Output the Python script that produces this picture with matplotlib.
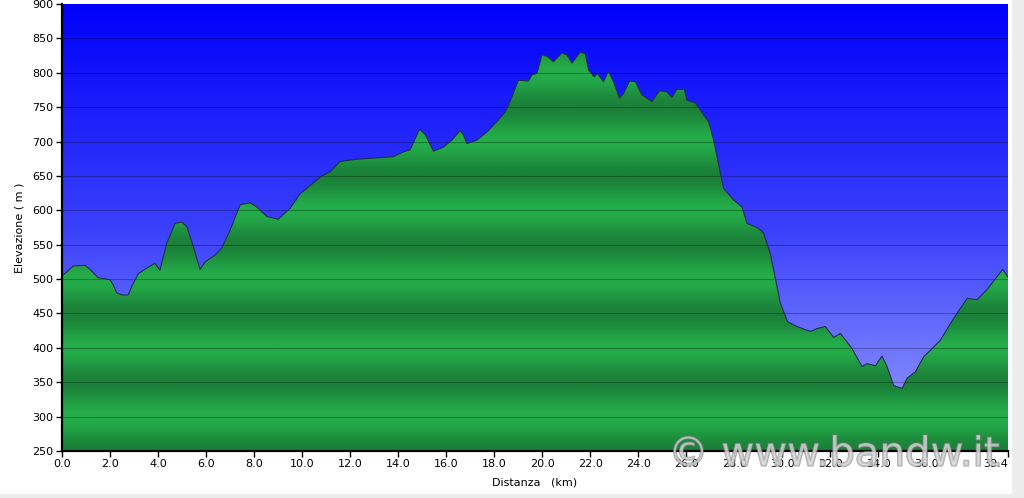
import numpy as np
import matplotlib
matplotlib.use("Agg")
import matplotlib.pyplot as plt
from matplotlib.patches import Polygon, Rectangle
from matplotlib.colors import LinearSegmentedColormap
import matplotlib.patheffects as pe

# ── data: distance (km) and elevation (m) ─────────────────────────────────────
distance_km = [0.0, 0.05, 0.47, 0.96, 1.17, 1.51, 2.0, 2.14, 2.28, 2.49, 2.76, 2.9, 3.18, 3.53,
               3.87, 4.08, 4.36, 4.71, 4.99, 5.2, 5.47, 5.75, 5.96, 6.38, 6.65, 7.0, 7.42,
               7.83, 8.11, 8.53, 9.01, 9.5, 9.92, 10.33, 10.82, 11.17, 11.58, 12.21, 12.97,
               13.8, 14.22, 14.5, 14.89, 15.13, 15.47, 15.89, 16.24, 16.58, 16.72, 16.86,
               17.28, 17.7, 18.11, 18.46, 18.6, 19.01, 19.43, 19.57, 19.78, 19.99, 20.2,
               20.47, 20.82, 21.03, 21.24, 21.58, 21.79, 21.93, 22.17, 22.3, 22.55, 22.76,
               22.97, 23.22, 23.39, 23.64, 23.88, 24.15, 24.57, 24.89, 25.2, 25.4, 25.61,
               25.92, 26.03, 26.38, 26.72, 26.93, 27.14, 27.55, 27.97, 28.32, 28.53, 29.01,
               29.22, 29.5, 29.78, 29.92, 30.22, 30.61, 31.17, 31.45, 31.79, 32.14, 32.42,
               32.9, 33.32, 33.53, 33.88, 34.15, 34.36, 34.64, 34.99, 35.2, 35.54, 35.89,
               36.24, 36.58, 37.14, 37.7, 38.11, 38.53, 39.18, 39.4]
elevation_m = [505, 506, 519, 520, 514, 502, 499, 491, 480, 477, 477, 489, 508, 516,
               523, 513, 552, 581, 583, 576, 547, 514, 525, 535, 545, 571, 608,
               611, 605, 591, 587, 603, 624, 636, 650, 656, 671, 674, 676,
               678, 685, 688, 718, 710, 686, 692, 702, 716, 710, 697,
               702, 714, 729, 743, 753, 789, 788, 797, 799, 826, 824,
               816, 829, 826, 814, 830, 828, 804, 794, 799, 787, 802,
               787, 763, 770, 788, 787, 768, 758, 774, 772, 764, 776,
               776, 760, 756, 739, 729, 702, 632, 615, 605, 581, 574,
               567, 537, 489, 465, 438, 431, 424, 428, 431, 415, 421,
               399, 373, 377, 374, 388, 373, 345, 341, 356, 365, 387,
               399, 411, 443, 472, 470, 485, 514, 503]

x_ticks = [0, 2, 4, 6, 8, 10, 12, 14, 16, 18, 20, 22, 24, 26, 28, 30, 32, 34, 36, 39.4]
x_ticklabels = ["0.0", "2.0", "4.0", "6.0", "8.0", "10.0", "12.0", "14.0", "16.0", "18.0",
                "20.0", "22.0", "24.0", "26.0", "28.0", "30.0", "32.0", "34.0", "36.0", "39.4"]
y_ticks = list(range(250, 901, 50))

xmin, xmax, ymin, ymax = 0, 39.4, 250, 900

fig = plt.figure(figsize=(10.24, 4.98), dpi=100)
fig.patch.set_facecolor("white")
# light grey frame strips on the right / bottom edge of the screenshot
fig.patches.append(Rectangle((1012 / 1024, 0), 12 / 1024, 1, transform=fig.transFigure,
                             facecolor="#ececec", edgecolor="none", zorder=-5))
fig.patches.append(Rectangle((0, 0), 1, 4 / 498, transform=fig.transFigure,
                             facecolor="#ececec", edgecolor="none", zorder=-5))

ax = fig.add_axes([62 / 1024, 1 - 451 / 498, 946 / 1024, 447 / 498])

# ── sky: vertical blue gradient (dark blue on top, pale at the bottom) ───────
sky_cmap = LinearSegmentedColormap.from_list("sky", ["#9aa2ff", "#3a40fa", "#0000fb"])
grad = np.linspace(0, 1, 256).reshape(-1, 1)
ax.imshow(grad, cmap=sky_cmap, aspect="auto", extent=[xmin, xmax, ymin, ymax],
          origin="lower", zorder=0, interpolation="bicubic")

# ── ground: banded green gradient clipped to the profile ──────────────────────
elev_rows = np.linspace(ymin, ymax, 1300)
phase = np.cos(2 * np.pi * (elev_rows - 400) / 100)   # light at x00, dark at x50
shade = (phase + 1) / 2
green_cmap = LinearSegmentedColormap.from_list("ground", ["#1b8139", "#24ad4a"])
ground = ax.imshow(shade.reshape(-1, 1), cmap=green_cmap, aspect="auto",
                   extent=[xmin, xmax, ymin, ymax], origin="lower", zorder=1,
                   vmin=0, vmax=1, interpolation="bilinear")
outline = [(distance_km[0], ymin)] + list(zip(distance_km, elevation_m)) + [(distance_km[-1], ymin)]
poly = Polygon(outline, closed=True, facecolor="none", edgecolor="none", transform=ax.transData)
ax.add_patch(poly)
ground.set_clip_path(poly)
ax.plot(distance_km, elevation_m, color="#20304a", linewidth=0.8, zorder=3)

# gridlines
for yv in y_ticks[1:-1]:
    ax.axhline(yv, color="black", alpha=0.28, linewidth=0.8, zorder=2)

ax.set_xlim(xmin, xmax)
ax.set_ylim(ymin, ymax)
ax.set_xticks(x_ticks)
ax.set_xticklabels(x_ticklabels)
ax.get_xticklabels()[-1].set_horizontalalignment("right")
ax.set_yticks(y_ticks)
ax.tick_params(labelsize=8, length=4, width=1, color="black", pad=2)
for side in ("top", "right"):
    ax.spines[side].set_visible(False)
for side in ("left", "bottom"):
    ax.spines[side].set_linewidth(1.6)
    ax.spines[side].set_zorder(5)

ax.set_ylabel("Elevazione ( m )", fontsize=8, labelpad=6)
ax.set_xlabel("Distanza   (km)", fontsize=8, labelpad=6)

# watermark (semi-transparent, sits over the tick labels as in the original)
fig.text(0.814, 0.087, "\u00a9 www.bandw.it", fontsize=29, color="#d8d8d8", alpha=0.6,
         ha="center", va="center", zorder=10,
         path_effects=[pe.withStroke(linewidth=1.4, foreground="#808080")])

fig.savefig("out.png", dpi=100)
